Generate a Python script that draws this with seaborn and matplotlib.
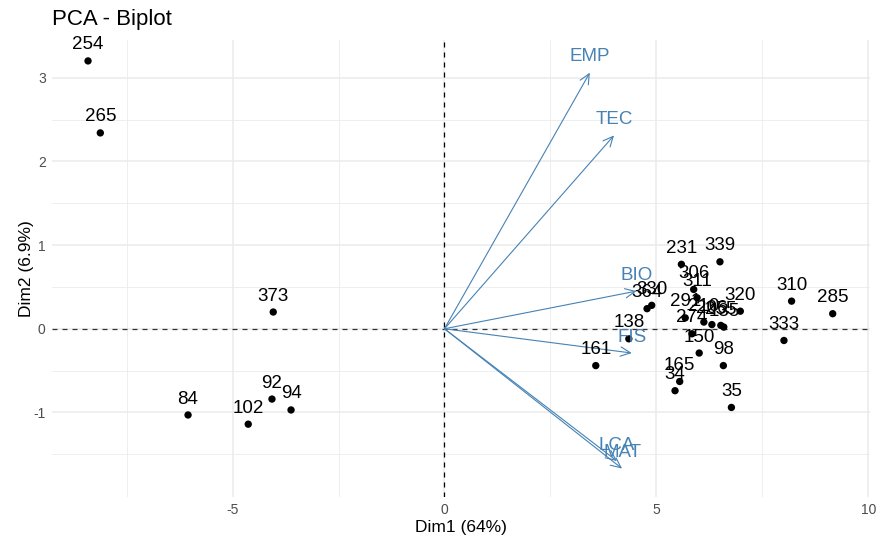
import matplotlib
matplotlib.use("Agg")
import matplotlib.pyplot as plt
import seaborn as sns
import pandas as pd

# Individuals (scores on the first two principal components)
obs_labels = ["254", "265", "373", "84", "102", "92", "94", "161", "138", "364",
              "330", "231", "339", "306", "311", "291", "274", "210", "206", "255",
              "135", "320", "150", "98", "165", "34", "35", "310", "285", "333"]
obs_dim1 = [-8.41, -8.12, -4.04, -6.05, -4.63, -4.07, -3.62, 3.57, 4.35, 4.78,
            4.89, 5.59, 6.50, 5.88, 5.96, 5.68, 5.84, 6.12, 6.31, 6.52,
            6.59, 6.98, 6.01, 6.58, 5.55, 5.44, 6.77, 8.19, 9.16, 8.01]
obs_dim2 = [3.20, 2.34, 0.20, -1.03, -1.14, -0.84, -0.97, -0.44, -0.12, 0.24,
            0.28, 0.77, 0.80, 0.47, 0.37, 0.13, -0.06, 0.08, 0.05, 0.04,
            0.02, 0.21, -0.29, -0.44, -0.63, -0.74, -0.94, 0.33, 0.18, -0.14]

# Variables (scaled loadings drawn as arrows)
var_labels = ["EMP", "TEC", "BIO", "FIS", "LCA", "MAT"]
var_dim1 = [3.43, 4.00, 4.53, 4.42, 4.07, 4.19]
var_dim2 = [3.06, 2.31, 0.45, -0.29, -1.58, -1.67]

x_ticks = [-5, 0, 5, 10]
y_ticks = [-1, 0, 1, 2, 3]

ind = pd.DataFrame({"label": obs_labels, "Dim1": obs_dim1, "Dim2": obs_dim2})
var = pd.DataFrame({"label": var_labels, "Dim1": var_dim1, "Dim2": var_dim2})

sns.set_theme(style="white")
plt.rcParams["font.family"] = ["Liberation Sans", "DejaVu Sans"]
plt.rcParams["axes.unicode_minus"] = False

fig = plt.figure(figsize=(8.77, 5.35), dpi=100)
ax = fig.add_axes([52 / 877, 1 - 497 / 535, (870 - 52) / 877, (497 - 40) / 535])

grid_col = "#ebebeb"
ax.set_xlim(-9.26, 10.04)
ax.set_ylim(-2.01, 3.45)
ax.set_xticks(x_ticks)
ax.set_yticks(y_ticks)
ax.set_xticks([-7.5, -2.5, 2.5, 7.5], minor=True)
ax.set_yticks([-1.5, -0.5, 0.5, 1.5, 2.5], minor=True)
ax.grid(True, which="major", color=grid_col, lw=1.1)
ax.grid(True, which="minor", color=grid_col, lw=0.6)
ax.set_axisbelow(True)
for s in ax.spines.values():
    s.set_visible(False)
ax.tick_params(axis="both", which="major", length=3, width=0.8, color="#4d4d4d",
               labelcolor="#4d4d4d", labelsize=10, pad=1.5)
ax.tick_params(axis="both", which="minor", length=0)

# Reference lines through the origin
ax.axhline(0, color="#333333", lw=0.9, ls=(0, (4, 4)), zorder=1)
ax.axvline(0, color="black", lw=0.9, ls=(0, (4, 4)), zorder=1)

# Individuals
sns.scatterplot(data=ind, x="Dim1", y="Dim2", color="black", s=28,
                edgecolor="none", ax=ax, zorder=3)
for _, r in ind.iterrows():
    ax.annotate(r["label"], (r["Dim1"], r["Dim2"]), xytext=(0, 11.5),
                textcoords="offset points", ha="center", va="center",
                fontsize=13.5, color="black", zorder=4)

# Variables
arrow_col = "#4682B4"
for _, r in var.iterrows():
    ax.annotate("", xy=(r["Dim1"], r["Dim2"]), xytext=(0, 0),
                arrowprops=dict(arrowstyle="->,head_length=0.6,head_width=0.28",
                                color=arrow_col, lw=0.8, shrinkA=0, shrinkB=0),
                zorder=2)
    ax.annotate(r["label"], (r["Dim1"], r["Dim2"]), xytext=(0, 11.5),
                textcoords="offset points", ha="center", va="center",
                fontsize=13.5, color=arrow_col, zorder=4)

ax.set_xlabel("Dim1 (64%)", fontsize=12.5, color="black", labelpad=2)
ax.set_ylabel("Dim2 (6.9%)", fontsize=12.5, color="black", labelpad=0)
fig.text(52 / 877, 1 - 20 / 535, "PCA - Biplot", fontsize=16, color="black",
         ha="left", va="center")

fig.savefig("out.png", dpi=100)
